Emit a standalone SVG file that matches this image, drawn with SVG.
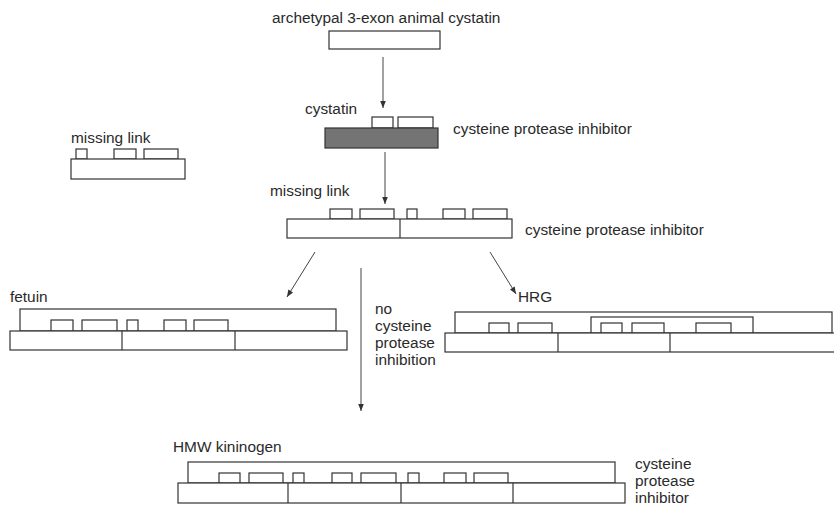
<svg xmlns="http://www.w3.org/2000/svg" width="834" height="506" viewBox="0 0 834 506">
<defs>
<style>
.b{fill:#fff;stroke:#333;stroke-width:1.2}
.g{fill:#747474;stroke:#333;stroke-width:1.2}
.l{fill:none;stroke:#333;stroke-width:1.2}
.t{font-family:"Liberation Sans",Arial,sans-serif;font-size:15.4px;fill:#2a2a2a}
.c{stroke:#444;stroke-width:1;fill:none}
</style>
<marker id="ah" viewBox="0 0 10 10" refX="10" refY="5" markerWidth="8" markerHeight="7" orient="auto" markerUnits="userSpaceOnUse"><path d="M0,1 L10,5 L0,9 z" fill="#333"/></marker>
</defs>
<rect width="834" height="506" fill="#fff"/>

<g id="archetypal">
<text class="t" x="272" y="23">archetypal 3-exon animal cystatin</text>
<rect class="b" x="329" y="31" width="111" height="18"/>
</g>

<g id="cystatin">
<text class="t" x="305" y="114">cystatin</text>
<rect class="b" x="372" y="117" width="21" height="11"/>
<rect class="b" x="398" y="117" width="35" height="11"/>
<rect class="g" x="325" y="128" width="113" height="20"/>
<text class="t" x="453" y="134">cysteine protease inhibitor</text>
</g>

<g id="missing-link-left">
<text class="t" x="71" y="143">missing link</text>
<rect class="b" x="76" y="149" width="11" height="10"/>
<rect class="b" x="114" y="149" width="22" height="10"/>
<rect class="b" x="144" y="149" width="34" height="10"/>
<rect class="b" x="71" y="159" width="114" height="20"/>
</g>

<g id="missing-link">
<text class="t" x="270" y="196">missing link</text>
<rect class="b" x="330" y="209" width="22" height="10"/>
<rect class="b" x="360" y="209" width="34" height="10"/>
<rect class="b" x="407" y="209" width="10" height="10"/>
<rect class="b" x="443" y="209" width="22" height="10"/>
<rect class="b" x="473" y="209" width="34" height="10"/>
<rect class="b" x="287" y="219" width="225" height="19"/>
<line class="l" x1="400" y1="219" x2="400" y2="238"/>
<text class="t" x="525" y="235">cysteine protease inhibitor</text>
</g>

<g id="fetuin">
<text class="t" x="10" y="302">fetuin</text>
<rect class="b" x="20" y="309" width="316" height="22"/>
<rect class="b" x="51" y="320" width="22" height="11"/>
<rect class="b" x="82" y="320" width="35" height="11"/>
<rect class="b" x="127" y="320" width="11" height="11"/>
<rect class="b" x="164" y="320" width="22" height="11"/>
<rect class="b" x="194" y="320" width="34" height="11"/>
<rect class="b" x="10" y="331" width="337" height="19"/>
<line class="l" x1="122" y1="331" x2="122" y2="350"/>
<line class="l" x1="235" y1="331" x2="235" y2="350"/>
</g>

<g id="hrg">
<text class="t" x="518" y="302">HRG</text>
<rect class="b" x="455" y="312" width="377" height="21"/>
<rect class="b" x="591" y="317" width="162" height="16"/>
<rect class="b" x="489" y="323" width="20" height="10"/>
<rect class="b" x="518" y="323" width="34" height="10"/>
<rect class="b" x="601" y="323" width="21" height="10"/>
<rect class="b" x="632" y="323" width="32" height="10"/>
<rect class="b" x="696" y="323" width="35" height="10"/>
<rect class="b" x="445" y="333" width="400" height="19"/>
<line class="l" x1="558" y1="333" x2="558" y2="352"/>
<line class="l" x1="670" y1="333" x2="670" y2="352"/>
</g>

<g id="no-inhibition">
<text class="t" x="375" y="314">no</text>
<text class="t" x="375" y="331">cysteine</text>
<text class="t" x="375" y="348">protease</text>
<text class="t" x="375" y="365">inhibition</text>
</g>

<g id="hmw-kininogen">
<text class="t" x="173" y="452">HMW kininogen</text>
<rect class="b" x="188" y="462" width="427" height="21"/>
<rect class="b" x="219" y="473" width="21" height="10"/>
<rect class="b" x="249" y="473" width="34" height="10"/>
<rect class="b" x="293" y="473" width="11" height="10"/>
<rect class="b" x="332" y="473" width="20" height="10"/>
<rect class="b" x="361" y="473" width="35" height="10"/>
<rect class="b" x="408" y="473" width="11" height="10"/>
<rect class="b" x="444" y="473" width="22" height="10"/>
<rect class="b" x="474" y="473" width="34" height="10"/>
<rect class="b" x="178" y="483" width="447" height="20"/>
<line class="l" x1="288" y1="483" x2="288" y2="503"/>
<line class="l" x1="401" y1="483" x2="401" y2="503"/>
<line class="l" x1="513" y1="483" x2="513" y2="503"/>
<text class="t" x="635" y="469">cysteine</text>
<text class="t" x="635" y="486">protease</text>
<text class="t" x="635" y="503">inhibitor</text>
</g>

<g id="connectors">
<line class="c" x1="383" y1="57" x2="383" y2="108" marker-end="url(#ah)"/>
<line class="c" x1="385" y1="152" x2="385" y2="204" marker-end="url(#ah)"/>
<line class="c" x1="315" y1="252" x2="287" y2="297" marker-end="url(#ah)"/>
<line class="c" x1="490" y1="252" x2="516" y2="294" marker-end="url(#ah)"/>
<line class="c" x1="361" y1="268" x2="361" y2="411" marker-end="url(#ah)"/>
</g>
</svg>
